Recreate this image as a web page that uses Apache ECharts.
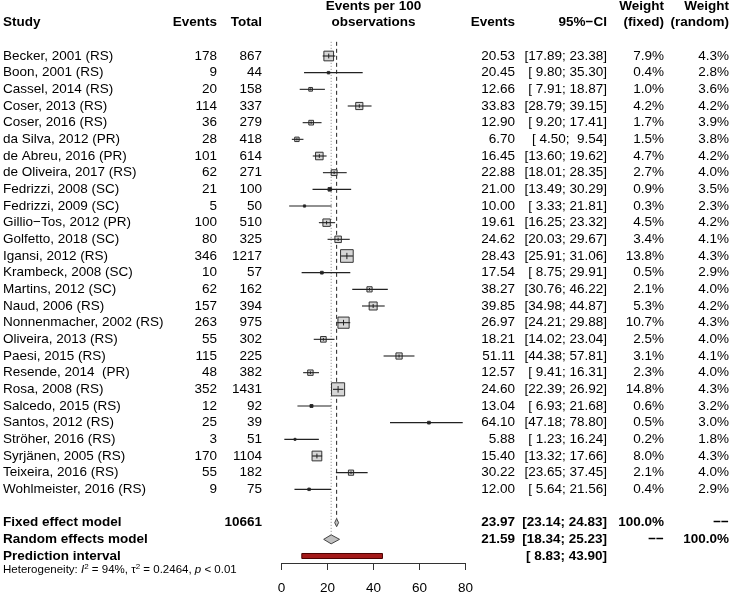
<!DOCTYPE html>
<html><head><meta charset="utf-8">
<script src="https://cdn.jsdelivr.net/npm/echarts@6/dist/echarts.min.js"></script>
<style>html,body{margin:0;padding:0;background:#fff}#c{width:733px;height:596px}</style>
</head><body><div id="c"></div>
<script>
const studies = ["Becker, 2001 (RS)","Boon, 2001 (RS)","Cassel, 2014 (RS)","Coser, 2013 (RS)","Coser, 2016 (RS)","da Silva, 2012 (PR)","de Abreu, 2016 (PR)","de Oliveira, 2017 (RS)","Fedrizzi, 2008 (SC)","Fedrizzi, 2009 (SC)","Gillio\u2212Tos, 2012 (PR)","Golfetto, 2018 (SC)","Igansi, 2012 (RS)","Krambeck, 2008 (SC)","Martins, 2012 (SC)","Naud, 2006 (RS)","Nonnenmacher, 2002 (RS)","Oliveira, 2013 (RS)","Paesi, 2015 (RS)","Resende, 2014  (PR)","Rosa, 2008 (RS)","Salcedo, 2015 (RS)","Santos, 2012 (RS)","Ströher, 2016 (RS)","Syrjänen, 2005 (RS)","Teixeira, 2016 (RS)","Wohlmeister, 2016 (RS)"];
const events = [178,9,20,114,36,28,101,62,21,5,100,80,346,10,62,157,263,55,115,48,352,12,25,3,170,55,9];
const totals = [867,44,158,337,279,418,614,271,100,50,510,325,1217,57,162,394,975,302,225,382,1431,92,39,51,1104,182,75];
const estimates = [20.53,20.45,12.66,33.83,12.90,6.70,16.45,22.88,21.00,10.00,19.61,24.62,28.43,17.54,38.27,39.85,26.97,18.21,51.11,12.57,24.60,13.04,64.10,5.88,15.40,30.22,12.00];
const lowerCI = [17.89,9.80,7.91,28.79,9.20,4.50,13.60,18.01,13.49,3.33,16.25,20.03,25.91,8.75,30.76,34.98,24.21,14.02,44.38,9.41,22.39,6.93,47.18,1.23,13.32,23.65,5.64];
const upperCI = [23.38,35.30,18.87,39.15,17.41,9.54,19.62,28.35,30.29,21.81,23.32,29.67,31.06,29.91,46.22,44.87,29.88,23.04,57.81,16.31,26.92,21.68,78.80,16.24,17.66,37.45,21.56];
const weightFixed = [7.9,0.4,1.0,4.2,1.7,1.5,4.7,2.7,0.9,0.3,4.5,3.4,13.8,0.5,2.1,5.3,10.7,2.5,3.1,2.3,14.8,0.6,0.5,0.2,8.0,2.1,0.4];
const weightRandom = [4.3,2.8,3.6,4.2,3.9,3.8,4.2,4.0,3.5,2.3,4.2,4.1,4.3,2.9,4.0,4.2,4.3,4.0,4.1,4.0,4.3,3.2,3.0,1.8,4.3,4.0,2.9];
const fixedModel = [23.97, 23.14, 24.83];
const randomModel = [21.59, 18.34, 25.23];
const predictionInterval = [8.83, 43.90];
const totalEvents = 10661;
const xTicks = [0, 20, 40, 60, 80];

const FONT = '"Liberation Sans", Arial, Helvetica, sans-serif';
const FS = 13.5;
const nS = studies.length;
const ROW_FIXED = nS + 1, ROW_RANDOM = nS + 2, ROW_PRED = nS + 3, ROW_HET = nS + 4;

function fmt(v){ return v.toFixed(2); }
function pad(v){ const s = fmt(v); return s.length < 5 ? ' ' + s : s; }
function ci(lo, hi){ return '[' + pad(lo) + '; ' + pad(hi) + ']'; }

function textSeries(x, rows, texts, align, opts){
  opts = opts || {};
  return {
    type: 'custom', xAxisIndex: 2, yAxisIndex: 2, silent: true, clip: false,
    data: rows.map(r => [x, r]),
    renderItem: function(params, api){
      const p = api.coord([api.value(0), api.value(1)]);
      const st = {
        text: texts[params.dataIndex], x: p[0], y: p[1], align: align, verticalAlign: 'middle',
        fontFamily: FONT, fontSize: opts.fontSize || FS, fontWeight: opts.bold ? 'bold' : 'normal', fill: '#000'
      };
      if (opts.rich) st.rich = opts.rich;
      return { type: 'text', style: st };
    }
  };
}

const studyRows = studies.map((s, i) => i);
const series = [];

// reference lines
series.push({
  type: 'custom', xAxisIndex: 0, yAxisIndex: 0, silent: true, clip: false,
  data: [[fixedModel[0], ROW_FIXED], [randomModel[0], ROW_RANDOM]],
  renderItem: function(params, api){
    const top = api.coord([api.value(0), -0.85]);
    const bot = api.coord([api.value(0), api.value(1)]);
    const dashed = params.dataIndex === 0;
    return { type: 'line', shape: { x1: top[0], y1: top[1], x2: bot[0], y2: bot[1] - (dashed ? 4 : 5) },
      style: { stroke: dashed ? '#222' : '#888', lineWidth: 1, lineDash: dashed ? [4, 3] : [1, 2] } };
  }
});

// study squares + CI
series.push({
  type: 'custom', xAxisIndex: 0, yAxisIndex: 0, silent: true, clip: false,
  data: estimates.map((e, i) => [e, i, lowerCI[i], upperCI[i], weightFixed[i]]),
  renderItem: function(params, api){
    const c = api.coord([api.value(0), api.value(1)]);
    const lo = api.coord([api.value(2), api.value(1)]);
    const hi = api.coord([api.value(3), api.value(1)]);
    const s = Math.max(2, Math.sqrt(api.value(4)) * 3.3 + 0.4);
    const small = s < 3.6;
    return { type: 'group', children: [
      { type: 'rect', shape: { x: c[0] - s/2, y: c[1] - s/2, width: s, height: s },
        style: { fill: small ? '#222' : '#d6d6d6', stroke: '#333', lineWidth: 1 } },
      { type: 'line', shape: { x1: lo[0], y1: c[1], x2: hi[0], y2: c[1] }, style: { stroke: '#222', lineWidth: 1.1 } },
      { type: 'line', shape: { x1: c[0], y1: c[1] - s/4, x2: c[0], y2: c[1] + s/4 }, style: { stroke: '#222', lineWidth: 1 } }
    ]};
  }
});

// diamonds
series.push({
  type: 'custom', xAxisIndex: 0, yAxisIndex: 0, silent: true, clip: false,
  data: [[fixedModel[0], ROW_FIXED, fixedModel[1], fixedModel[2]], [randomModel[0], ROW_RANDOM, randomModel[1], randomModel[2]]],
  renderItem: function(params, api){
    const c = api.coord([api.value(0), api.value(1)]);
    const lo = api.coord([api.value(2), api.value(1)]);
    const hi = api.coord([api.value(3), api.value(1)]);
    const h = params.dataIndex === 0 ? 4 : 4.5;
    return { type: 'polygon', shape: { points: [[lo[0], c[1]], [c[0], c[1] - h], [hi[0], c[1]], [c[0], c[1] + h]] },
      style: { fill: '#c0c0c0', stroke: '#444', lineWidth: 1 } };
  }
});

// prediction interval
series.push({
  type: 'custom', xAxisIndex: 0, yAxisIndex: 0, silent: true, clip: false,
  data: [[predictionInterval[0], predictionInterval[1], ROW_PRED]],
  renderItem: function(params, api){
    const a = api.coord([api.value(0), api.value(2)]);
    const b = api.coord([api.value(1), api.value(2)]);
    return { type: 'rect', shape: { x: a[0], y: a[1] - 2.5, width: b[0] - a[0], height: 5 },
      style: { fill: '#a31a1a', stroke: '#4a0000', lineWidth: 1 } };
  }
});

// header texts
series.push(textSeries(3, [-2], ['Study'], 'left', { bold: true }));
series.push(textSeries(217, [-2], ['Events'], 'right', { bold: true }));
series.push(textSeries(262, [-2], ['Total'], 'right', { bold: true }));
series.push(textSeries(373.5, [-3, -2], ['Events per 100', 'observations'], 'center', { bold: true }));
series.push(textSeries(515, [-2], ['Events'], 'right', { bold: true }));
series.push(textSeries(607, [-2], ['95%\u2212CI'], 'right', { bold: true }));
series.push(textSeries(664, [-3, -2], ['Weight', '(fixed)'], 'right', { bold: true }));
series.push(textSeries(729, [-3, -2], ['Weight', '(random)'], 'right', { bold: true }));

// study texts
series.push(textSeries(3, studyRows, studies, 'left'));
series.push(textSeries(217, studyRows, events.map(String), 'right'));
series.push(textSeries(262, studyRows, totals.map(String), 'right'));
series.push(textSeries(515, studyRows, estimates.map(fmt), 'right'));
series.push(textSeries(607, studyRows, lowerCI.map((l, i) => ci(l, upperCI[i])), 'right'));
series.push(textSeries(664, studyRows, weightFixed.map(w => w.toFixed(1) + '%'), 'right'));
series.push(textSeries(729, studyRows, weightRandom.map(w => w.toFixed(1) + '%'), 'right'));

// summary texts
series.push(textSeries(3, [ROW_FIXED, ROW_RANDOM, ROW_PRED], ['Fixed effect model', 'Random effects model', 'Prediction interval'], 'left', { bold: true }));
series.push(textSeries(262, [ROW_FIXED], [String(totalEvents)], 'right', { bold: true }));
series.push(textSeries(515, [ROW_FIXED, ROW_RANDOM], [fmt(fixedModel[0]), fmt(randomModel[0])], 'right', { bold: true }));
series.push(textSeries(607, [ROW_FIXED, ROW_RANDOM, ROW_PRED], [ci(fixedModel[1], fixedModel[2]), ci(randomModel[1], randomModel[2]), ci(predictionInterval[0], predictionInterval[1])], 'right', { bold: true }));
series.push(textSeries(664, [ROW_FIXED, ROW_RANDOM], ['100.0%', '\u2212\u2212'], 'right', { bold: true }));
series.push(textSeries(729, [ROW_FIXED, ROW_RANDOM], ['\u2212\u2212', '100.0%'], 'right', { bold: true }));

// heterogeneity
series.push(textSeries(3, [ROW_HET - 0.15], ['{n|Heterogeneity: }{i|I}{s|2}{n| = 94%, \u03c4}{s|2}{n| = 0.2464, }{i|p}{n| < 0.01}'], 'left', {
  fontSize: 11.5,
  rich: {
    n: { fontFamily: FONT, fontSize: 11.5, fill: '#000' },
    i: { fontFamily: FONT, fontSize: 11.5, fontStyle: 'italic', fill: '#000' },
    s: { fontFamily: FONT, fontSize: 8, fill: '#000', verticalAlign: 'top', padding: [0, 0, 6, 0] }
  }
}));

const yCommon = { type: 'value', min: -3, max: 32, inverse: true, show: false };
const option = {
  animation: false,
  backgroundColor: '#fff',
  grid: [
    { left: 281.5, width: 184, top: 6, height: 583.33 },
    { left: 281.5, width: 184, top: 543, height: 20 },
    { left: 0, width: 733, top: 6, height: 583.33 }
  ],
  xAxis: [
    { gridIndex: 0, type: 'value', min: 0, max: 80, show: false },
    { gridIndex: 1, type: 'value', min: xTicks[0], max: xTicks[xTicks.length - 1], interval: 20, position: 'bottom',
      axisLine: { show: true, lineStyle: { color: '#333', width: 1 } },
      axisTick: { show: true, length: 7, lineStyle: { color: '#333' } },
      axisLabel: { show: true, margin: 18, color: '#000', fontSize: FS, fontFamily: FONT },
      splitLine: { show: false } },
    { gridIndex: 2, type: 'value', min: 0, max: 733, show: false }
  ],
  yAxis: [
    Object.assign({ gridIndex: 0 }, yCommon),
    { gridIndex: 1, type: 'value', min: 0, max: 1, show: false },
    Object.assign({ gridIndex: 2 }, yCommon)
  ],
  series: series
};
const chart = echarts.init(document.getElementById('c'), null, { renderer: 'canvas' });
chart.setOption(option);
</script>
</body></html>
